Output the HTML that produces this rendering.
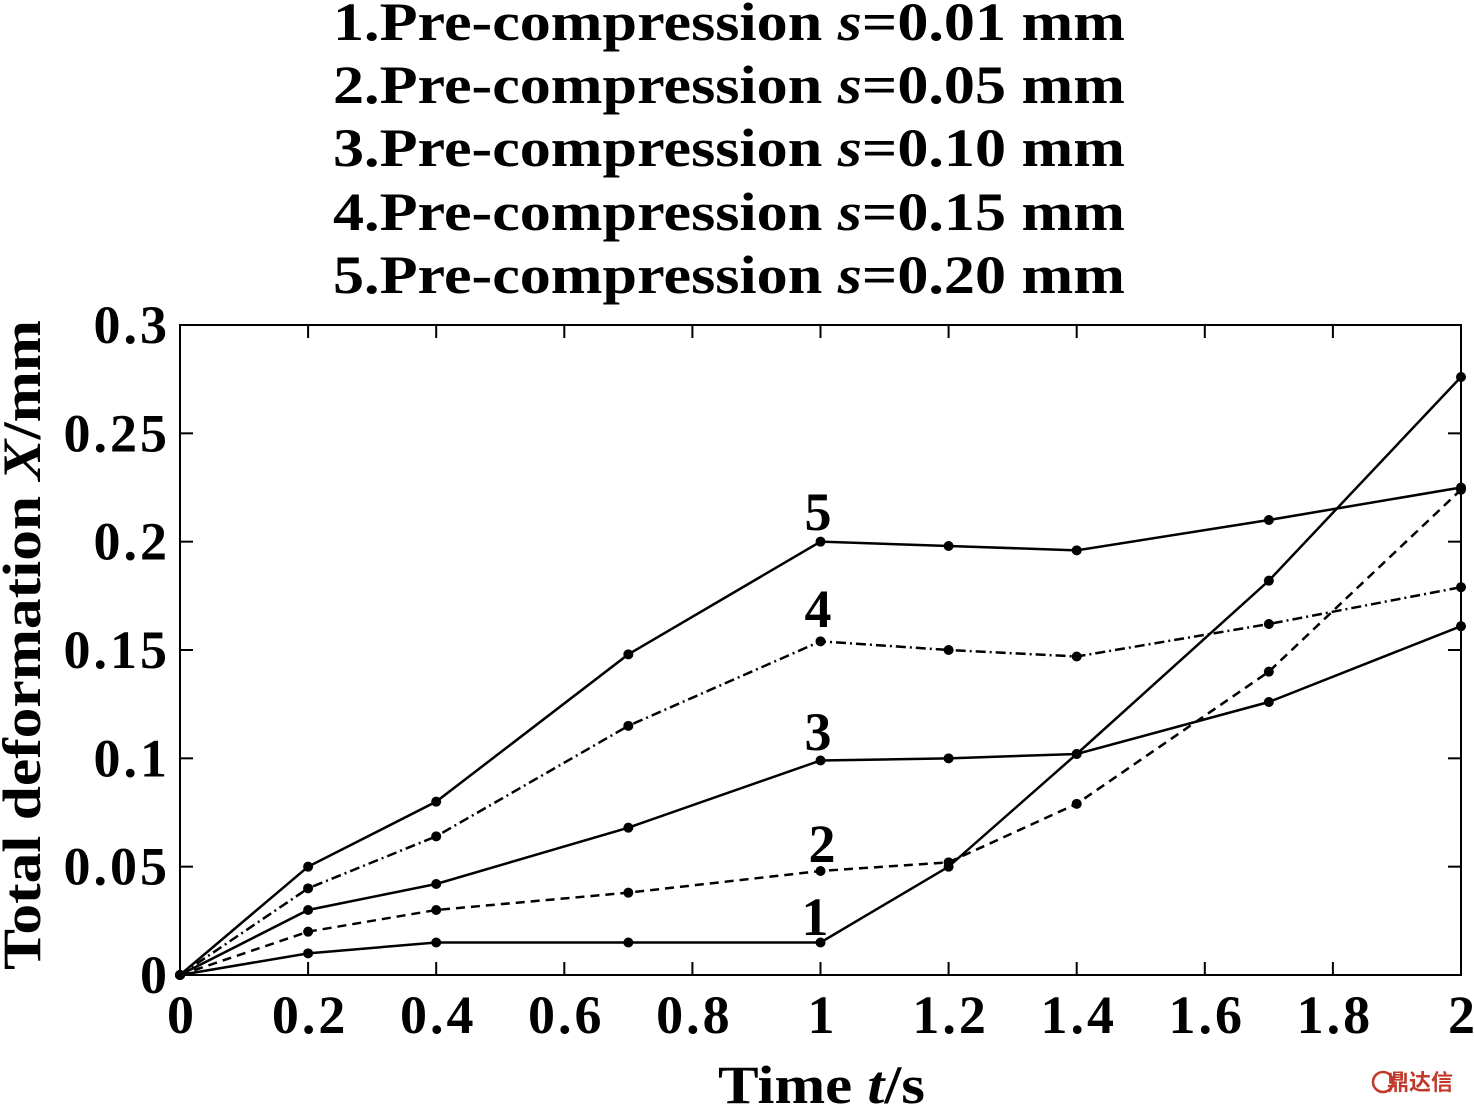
<!DOCTYPE html>
<html><head><meta charset="utf-8"><style>
html,body{margin:0;padding:0;background:#fff;}
svg{display:block;font-family:"Liberation Serif",serif;font-weight:bold;}
</style></head><body>
<svg id="s" width="1474" height="1105" xmlns="http://www.w3.org/2000/svg">
<g font-size="54" fill="#000">
<text x="333" y="40" textLength="792" lengthAdjust="spacingAndGlyphs">1.Pre-compression <tspan font-style="italic">s</tspan>=0.01 mm</text>
<text x="333" y="103" textLength="792" lengthAdjust="spacingAndGlyphs">2.Pre-compression <tspan font-style="italic">s</tspan>=0.05 mm</text>
<text x="333" y="166" textLength="792" lengthAdjust="spacingAndGlyphs">3.Pre-compression <tspan font-style="italic">s</tspan>=0.10 mm</text>
<text x="333" y="230" textLength="792" lengthAdjust="spacingAndGlyphs">4.Pre-compression <tspan font-style="italic">s</tspan>=0.15 mm</text>
<text x="333" y="293" textLength="792" lengthAdjust="spacingAndGlyphs">5.Pre-compression <tspan font-style="italic">s</tspan>=0.20 mm</text>
</g>
<rect x="180" y="325" width="1281" height="650" fill="none" stroke="#000" stroke-width="2"/>
<g id="ticks" stroke="#000" stroke-width="2"></g>
<g id="lbl" font-size="54" fill="#000" letter-spacing="3"></g>
<g id="series" fill="none" stroke="#000" stroke-width="2.5"></g>
<g font-size="54" fill="#000" text-anchor="middle">
<text x="818" y="530">5</text>
<text x="818" y="627">4</text>
<text x="818" y="750">3</text>
<text x="822" y="862">2</text>
<text x="815" y="935">1</text>
</g>
<g font-size="54" fill="#000">
<text x="718" y="1103" textLength="207" lengthAdjust="spacingAndGlyphs">Time <tspan font-style="italic">t</tspan>/s</text>
<text transform="translate(40,970) rotate(-90)" textLength="650" lengthAdjust="spacingAndGlyphs">Total deformation <tspan font-style="italic">X</tspan>/mm</text>
</g>
<text x="1420" y="1090" font-size="22" fill="#c0392b" text-anchor="middle" font-family="'Noto Sans CJK SC',sans-serif">鼎达信</text>
<circle cx="1383" cy="1082" r="10" fill="none" stroke="#c0392b" stroke-width="2.5"/>
</svg>
<script>
var X=function(t){return 180+t*640.5},Y=function(v){return 975-v*2166.67};
var T=document.getElementById('ticks'),L=document.getElementById('lbl'),S=document.getElementById('series');
function el(p,n,a,txt){var e=document.createElementNS('http://www.w3.org/2000/svg',n);for(var k in a)e.setAttribute(k,a[k]);if(txt!=null)e.textContent=txt;p.appendChild(e);return e;}
var xl=['0','0.2','0.4','0.6','0.8','1','1.2','1.4','1.6','1.8','2'];
for(var i=0;i<=10;i++){var x=X(i*0.2);
el(T,'line',{x1:x,y1:975,x2:x,y2:962});el(T,'line',{x1:x,y1:325,x2:x,y2:338});
el(L,'text',{x:x+2,y:1033,'text-anchor':'middle'},xl[i]);}
var yl=['0','0.05','0.1','0.15','0.2','0.25','0.3'];
for(var j=0;j<=6;j++){var y=Y(j*0.05);
el(T,'line',{x1:180,y1:y,x2:193,y2:y});el(T,'line',{x1:1461,y1:y,x2:1448,y2:y});
el(L,'text',{x:170,y:y+18,'text-anchor':'end'},yl[j]);}
var ts=[0,0.2,0.4,0.7,1,1.2,1.4,1.7,2];
var d=[[0,0.01,0.015,0.015,0.015,0.05,0.102,0.182,0.276,''],
[0,0.02,0.03,0.038,0.048,0.052,0.079,0.14,0.224,'9,6'],
[0,0.03,0.042,0.068,0.099,0.1,0.102,0.126,0.161,''],
[0,0.04,0.064,0.115,0.154,0.15,0.147,0.162,0.179,'10,4,2,4'],
[0,0.05,0.08,0.148,0.2,0.198,0.196,0.21,0.225,'']];
d.forEach(function(s){var p='';for(var k=0;k<9;k++)p+=(k?'L':'M')+X(ts[k])+','+Y(s[k]);
var a={d:p};if(s[9])a['stroke-dasharray']=s[9];el(S,'path',a);
for(var k=0;k<9;k++)el(S,'circle',{cx:X(ts[k]),cy:Y(s[k]),r:5,fill:'#000',stroke:'none'});});
</script>
</body></html>
